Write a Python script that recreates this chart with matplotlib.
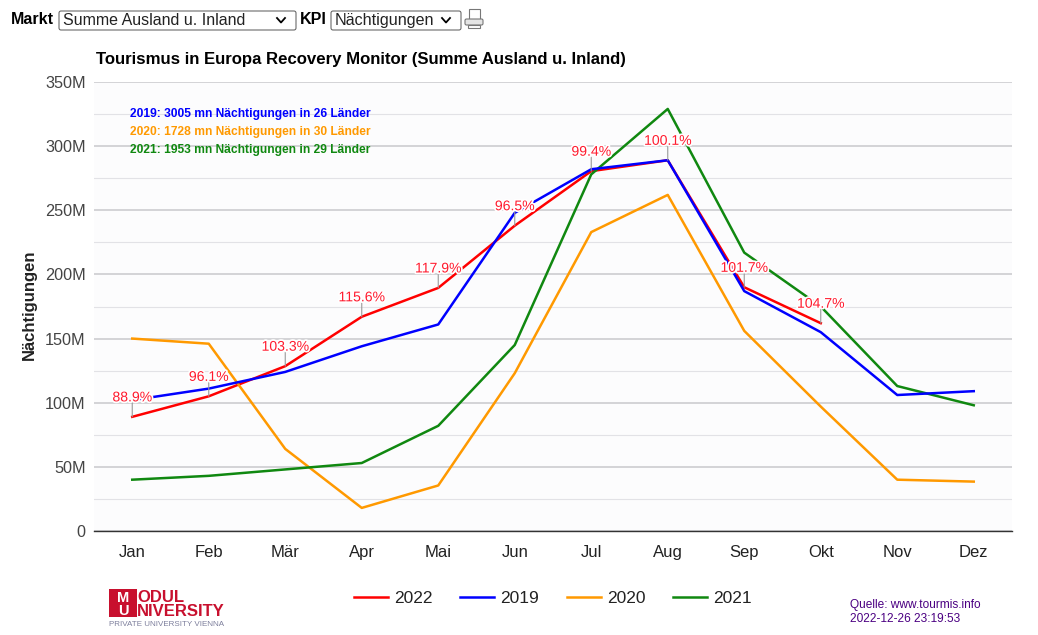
import matplotlib
matplotlib.use("Agg")
import matplotlib.pyplot as plt
import matplotlib.patheffects as pe
from matplotlib.patches import Rectangle, FancyBboxPatch
from matplotlib.ticker import FuncFormatter, MultipleLocator

plt.rcParams['font.family'] = ['Liberation Sans', 'DejaVu Sans']

months = ["Jan", "Feb", "Mär", "Apr", "Mai", "Jun", "Jul", "Aug", "Sep", "Okt", "Nov", "Dez"]
v2022 = [89, 105, 128.5, 167, 189.5, 238, 280.5, 289, 190, 162]
v2019 = [102, 111, 124, 144, 161, 248, 282, 289, 187, 155, 106, 109]
v2020 = [150, 146, 64, 18, 35.5, 123, 233, 262, 156, 97, 40, 38.5]
v2021 = [40, 43, 48, 53, 82, 145, 278, 329, 217, 175, 113, 98]
pct_labels = ["88.9%", "96.1%", "103.3%", "115.6%", "117.9%", "96.5%", "99.4%", "100.1%", "101.7%", "104.7%"]
summary = [("2019: 3005 mn Nächtigungen in 26 Länder", "#0000ff"),
           ("2020: 1728 mn Nächtigungen in 30 Länder", "#ff9900"),
           ("2021: 1953 mn Nächtigungen in 29 Länder", "#108810")]

W, H = 1038, 635
fig = plt.figure(figsize=(W / 100, H / 100), dpi=100, facecolor="white")

# page chrome in pixel coordinates
bg = fig.add_axes([0, 0, 1, 1], zorder=0)
bg.set_xlim(0, W); bg.set_ylim(H, 0); bg.axis("off")

bg.text(11, 20, "Markt", fontsize=11.5, fontweight="bold", va="center", color="black")
bg.text(300, 20, "KPI", fontsize=11.5, fontweight="bold", va="center", color="black")
for x0, x1, label, fs in [(59, 296, "Summe Ausland u. Inland", 11.5), (331, 461, "Nächtigungen", 11.6)]:
    bg.add_patch(FancyBboxPatch((x0, 11), x1 - x0, 19, boxstyle="round,pad=0,rounding_size=2",
                                fc="white", ec="#555555", lw=0.7))
    bg.text(x0 + 4, 20.5, label, fontsize=fs, va="center", color="#222222")
    bg.plot([x1 - 19, x1 - 15, x1 - 11], [18, 22.5, 18], color="black", lw=1.3)
# printer icon
bg.add_patch(Rectangle((469, 9), 11, 11, fc="white", ec="#777777", lw=0.8))
bg.add_patch(FancyBboxPatch((465, 19), 18, 6, boxstyle="round,pad=0,rounding_size=1.5",
                            fc="#e4e4e4", ec="#777777", lw=0.8))
bg.add_patch(Rectangle((468, 25), 12, 3, fc="white", ec="#777777", lw=0.8))

# logo
bg.add_patch(Rectangle((109, 589), 28, 28, fc="#c8102e", ec="none"))
bg.text(123, 602, "M", fontsize=10.5, fontweight="bold", color="white", ha="center", va="baseline")
bg.text(123, 615, "U", fontsize=10.5, fontweight="bold", color="white", ha="center", va="baseline")
bg.text(137, 602, "ODUL", fontsize=12, fontweight="bold", color="#c8102e", va="baseline")
bg.text(137, 616, "NIVERSITY", fontsize=12, fontweight="bold", color="#c8102e", va="baseline")
bg.text(109, 624, "PRIVATE UNIVERSITY VIENNA", fontsize=5.8, color="#7d7f9c", va="center")

bg.text(850, 605, "Quelle: www.tourmis.info", fontsize=8.6, color="#4b0082", va="center")
bg.text(850, 619, "2022-12-26 23:19:53", fontsize=8.6, color="#4b0082", va="center")

# chart
ax = fig.add_axes([94 / W, 1 - 531 / H, (1012 - 94) / W, (531 - 82) / H], zorder=1)
ax.set_facecolor("#fcfcfd")
xs = list(range(len(months)))
ax.set_xlim(-0.5, 11.5)
ax.set_ylim(0, 350)
ax.yaxis.set_major_locator(MultipleLocator(50))
ax.yaxis.set_minor_locator(MultipleLocator(25))
ax.yaxis.set_major_formatter(FuncFormatter(lambda v, _: "0" if v == 0 else f"{int(v)}M"))
ax.grid(True, axis="y", which="major", color="#c8c8cc", lw=1.1)
ax.grid(True, axis="y", which="minor", color="#e2e2e6", lw=0.8)
ax.set_axisbelow(True)
for s in ("top", "left", "right"):
    ax.spines[s].set_visible(False)
ax.spines["bottom"].set_color("#333333")
ax.spines["bottom"].set_linewidth(1.0)
ax.tick_params(axis="both", which="both", length=0)
ax.tick_params(axis="y", labelsize=11.7, labelcolor="#444444", pad=6)
ax.tick_params(axis="x", labelsize=12, labelcolor="#222222", pad=10)
ax.set_xticks(xs)
ax.set_xticklabels(months)
ax.set_ylabel("Nächtigungen", fontsize=12, fontweight="bold", color="#222222", labelpad=6, y=0.505)

ax.plot(xs[:len(v2022)], v2022, color="#ff0000", lw=1.8, label="2022", zorder=3)
ax.plot(xs, v2019, color="#0000ff", lw=1.8, label="2019", zorder=4)
ax.plot(xs, v2020, color="#ff9900", lw=1.8, label="2020", zorder=3)
ax.plot(xs, v2021, color="#108810", lw=1.8, label="2021", zorder=3)

for x, y, lab in zip(xs, v2022, pct_labels):
    ax.annotate(lab, xy=(x, y), xytext=(0, 14), textcoords="offset points",
                ha="center", va="center", fontsize=10.1, color="#ff1a2e", zorder=6,
                path_effects=[pe.withStroke(linewidth=2.5, foreground="white")])
    ax.annotate("", xy=(x, y), xytext=(0, 10), textcoords="offset points", zorder=5,
                arrowprops=dict(arrowstyle="-", color="#999999", lw=0.8, shrinkA=0, shrinkB=0))

for i, (t, c) in enumerate(summary):
    ax.annotate(t, xy=(130 / W, 1 - (114 + i * 18) / H), xycoords="figure fraction",
                fontsize=8.65, fontweight="bold", color=c, va="center", zorder=7)

ax.set_title("Tourismus in Europa Recovery Monitor (Summe Ausland u. Inland)",
             fontsize=12.1, fontweight="bold", color="black", loc="left", x=0.002, pad=13)

ax.legend(loc="center", bbox_to_anchor=(553 / W, 1 - 598 / H), bbox_transform=fig.transFigure,
          ncol=4, frameon=False, fontsize=12.5, handlelength=1.96, handletextpad=0.35, columnspacing=1.6,
          labelcolor="#222222")

fig.savefig("out.png", dpi=100)
